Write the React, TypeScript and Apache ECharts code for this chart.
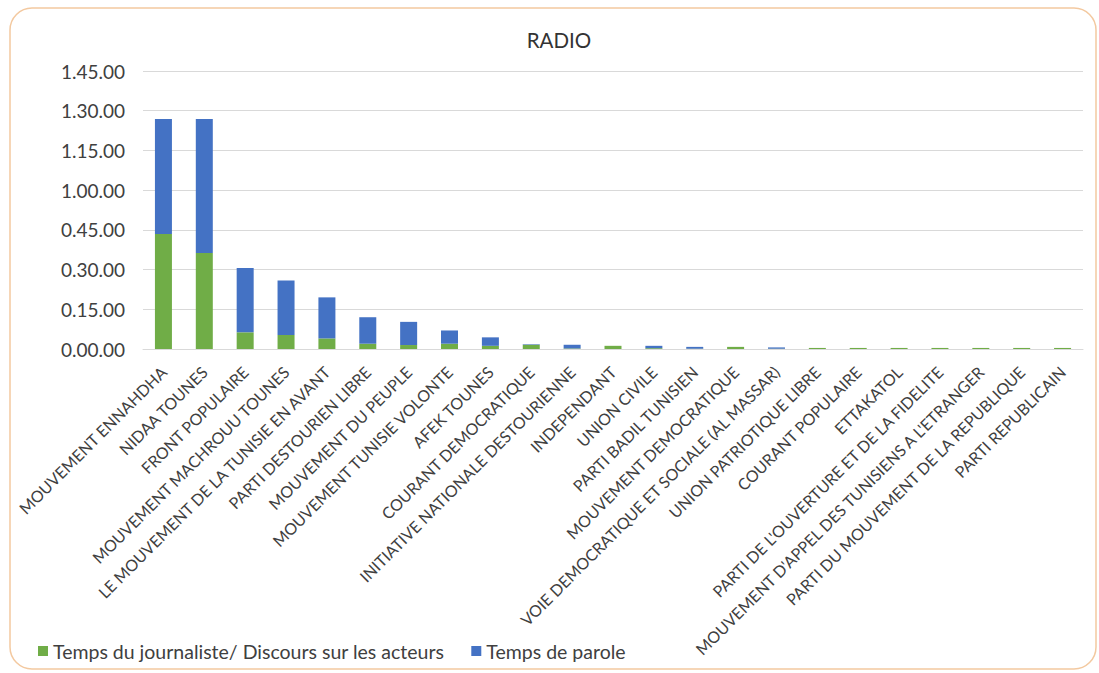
import React, { useEffect, useRef } from "react";
import * as echarts from "echarts";

const categories = [
  "MOUVEMENT ENNAHDHA",
  "NIDAA TOUNES",
  "FRONT POPULAIRE",
  "MOUVEMENT MACHROUU TOUNES",
  "LE MOUVEMENT DE LA TUNISIE EN AVANT",
  "PARTI DESTOURIEN LIBRE",
  "MOUVEMENT DU PEUPLE",
  "MOUVEMENT TUNISIE VOLONTE",
  "AFEK TOUNES",
  "COURANT DEMOCRATIQUE",
  "INITIATIVE NATIONALE DESTOURIENNE",
  "INDEPENDANT",
  "UNION CIVILE",
  "PARTI BADIL TUNISIEN",
  "MOUVEMENT DEMOCRATIQUE",
  "VOIE DEMOCRATIQUE ET SOCIALE (AL MASSAR)",
  "UNION PATRIOTIQUE LIBRE",
  "COURANT POPULAIRE",
  "ETTAKATOL",
  "PARTI DE L'OUVERTURE ET DE LA FIDELITE",
  "MOUVEMENT D'APPEL DES TUNISIENS A L'ETRANGER",
  "PARTI DU MOUVEMENT DE LA REPUBLIQUE",
  "PARTI REPUBLICAIN",
];

// values in minutes
const journalisteMinutes = [
  43.4, 36.3, 6.3, 5.3, 4.0, 2.0, 1.5, 2.0, 1.2, 1.6, 0.2, 1.2, 0.3, 0.1, 0.8,
  0.1, 0.4, 0.4, 0.4, 0.4, 0.4, 0.4, 0.4,
];
const paroleMinutes = [
  43.5, 50.6, 24.3, 20.6, 15.5, 10.0, 8.75, 5.0, 3.2, 0.2, 1.4, 0.0, 0.9, 0.7,
  0.0, 0.5, 0.0, 0.0, 0.0, 0.0, 0.0, 0.0, 0.0,
];

const seriesNames = [
  "Temps du journaliste/ Discours sur les acteurs",
  "Temps de parole",
];
const title = "RADIO";

const FONT = "Lato, 'Open Sans', sans-serif";

function fmt(v: number): string {
  const h = Math.floor(v / 60);
  const m = Math.round(v - h * 60);
  return `${h}.${m < 10 ? "0" + m : m}.00`;
}

export default function App() {
  const ref = useRef<HTMLDivElement>(null);
  useEffect(() => {
    document.body.style.margin = "0";
    if (!ref.current) return;
    const chart = echarts.init(ref.current, undefined, { renderer: "svg" });
    chart.setOption({
      animation: false,
      backgroundColor: "#ffffff",
      title: {
        text: title,
        left: 554,
        textAlign: "center",
        top: 24,
        textStyle: { fontFamily: FONT, fontSize: 20.5, fontWeight: "normal", color: "#333" },
      },
      graphic: [
        {
          type: "rect",
          shape: { x: 10, y: 8, width: 1086, height: 661, r: 22 },
          style: { fill: "none", stroke: "#f3c9a0", lineWidth: 1.5 },
          silent: true,
        },
      ],
      legend: {
        left: 33,
        top: 636,
        itemWidth: 10,
        itemHeight: 10,
        itemGap: 27,
        icon: "rect",
        textStyle: { fontFamily: FONT, fontSize: 19.5, color: "#404040" },
        data: seriesNames,
      },
      grid: { left: 143, right: 16, top: 71, bottom: 324, containLabel: false },
      xAxis: {
        type: "category",
        data: categories,
        axisLine: { lineStyle: { color: "#d9d9d9" } },
        axisTick: { show: false },
        axisLabel: {
          interval: 0,
          rotate: 45,
          fontFamily: FONT,
          fontSize: 16,
          color: "#404040",
          margin: 20,
        },
      },
      yAxis: {
        type: "value",
        min: 0,
        max: 105,
        interval: 15,
        axisLine: { show: false },
        axisTick: { show: false },
        splitLine: { lineStyle: { color: "#d9d9d9" } },
        axisLabel: {
          formatter: (v: number) => fmt(v),
          fontFamily: FONT,
          fontSize: 19,
          color: "#404040",
          margin: 18,
        },
      },
      series: [
        {
          name: seriesNames[0],
          type: "bar",
          stack: "t",
          barWidth: 17,
          data: journalisteMinutes,
          itemStyle: { color: "#70ad47" },
        },
        {
          name: seriesNames[1],
          type: "bar",
          stack: "t",
          barWidth: 17,
          data: paroleMinutes,
          itemStyle: { color: "#4472c4" },
        },
      ],
    });
    return () => chart.dispose();
  }, []);
  return <div ref={ref} style={{ width: 1099, height: 673 }} />;
}
